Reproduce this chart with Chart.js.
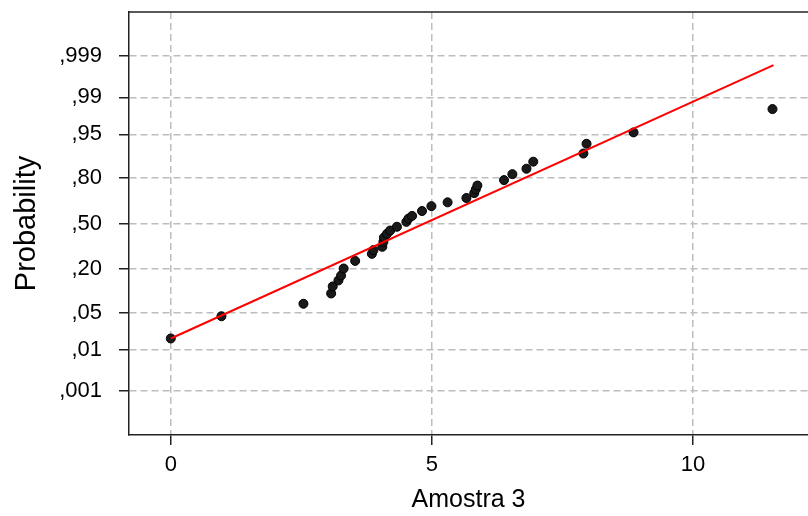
<!DOCTYPE html>
<html>
<head>
<meta charset="utf-8">
<script src="https://cdn.jsdelivr.net/npm/chart.js@4/dist/chart.umd.min.js"></script>
<style>
  html, body { margin: 0; padding: 0; background: #fff; }
</style>
</head>
<body>
<canvas id="chartProb" width="808" height="516"></canvas>
<script>
"use strict";

var amostraX = [0.00, 0.97, 2.54, 3.07, 3.10, 3.21, 3.26, 3.31, 3.53, 3.85,
                3.88, 4.05, 4.07, 4.08, 4.14, 4.20, 4.33, 4.51, 4.55, 4.62,
                4.81, 4.99, 5.30, 5.66, 5.81, 5.84, 5.87, 6.38, 6.54, 6.81,
                6.94, 7.90, 7.96, 8.86, 11.52];
var escoreZ  = [-2.12, -1.71, -1.48, -1.29, -1.16, -1.05, -0.96, -0.83, -0.69, -0.56,
                -0.49, -0.43, -0.34, -0.26, -0.19, -0.13, -0.06, 0.03, 0.09, 0.14,
                0.23, 0.32, 0.39, 0.47, 0.56, 0.63, 0.70, 0.80, 0.91, 1.01,
                1.14, 1.29, 1.47, 1.68, 2.11];

/* reta ajustada (extremos) */
var retaX = [0, 11.54];
var retaZ = [-2.12, 2.92];

/* eixos */
var probTicks  = [0.001, 0.01, 0.05, 0.20, 0.50, 0.80, 0.95, 0.99, 0.999];
var probLabels = [',001', ',01', ',05', ',20', ',50', ',80', ',95', ',99', ',999'];
var xTicks     = [0, 5, 10];

/* quantil normal (aprox. Abramowitz-Stegun 26.2.23) para posicionar os ticks */
function probit(p) {
  if (p === 0.5) return 0;
  var q = p < 0.5 ? p : 1 - p;
  var t = Math.sqrt(-2 * Math.log(q));
  var z = t - (2.515517 + 0.802853 * t + 0.010328 * t * t) /
              (1 + 1.432788 * t + 0.189269 * t * t + 0.001308 * t * t * t);
  return p < 0.5 ? -z : z;
}
var tickZ = probTicks.map(probit);

var pontos = amostraX.map(function (v, i) { return { x: v, y: escoreZ[i] }; });
var reta   = retaX.map(function (v, i) { return { x: v, y: retaZ[i] }; });

var FONTE = "'Liberation Sans', Arial, sans-serif";

var bordaSuperior = {
  id: 'bordaSuperior',
  afterDraw: function (chart) {
    var a = chart.chartArea, ctx = chart.ctx;
    ctx.save();
    ctx.strokeStyle = '#222';
    ctx.lineWidth = 1.5;
    ctx.beginPath();
    ctx.moveTo(a.left, a.top);
    ctx.lineTo(a.right, a.top);
    ctx.stroke();
    ctx.restore();
  }
};

new Chart(document.getElementById('chartProb'), {
  type: 'scatter',
  data: {
    datasets: [
      {
        type: 'line',
        data: reta,
        borderColor: '#ff0000',
        borderWidth: 2,
        pointRadius: 0,
        fill: false,
        tension: 0
      },
      {
        data: pontos,
        backgroundColor: '#1a1a1a',
        borderColor: '#000',
        borderWidth: 1,
        pointRadius: 4.5,
        pointStyle: 'circle'
      }
    ]
  },
  plugins: [bordaSuperior],
  options: {
    responsive: false,
    animation: false,
    layout: { autoPadding: false, padding: { top: 12, left: 0, right: 0, bottom: 0 } },
    plugins: {
      legend: { display: false },
      tooltip: { enabled: false }
    },
    scales: {
      x: {
        type: 'linear',
        min: -0.8,
        max: 12.2,
        afterBuildTicks: function (scale) {
          scale.ticks = xTicks.map(function (v) { return { value: v }; });
        },
        afterFit: function (scale) {
          scale.height = 81;
          scale.paddingLeft = 0;
          scale.paddingRight = 0;
        },
        grid: {
          color: '#bdbdbd',
          lineWidth: 1.5,
          tickLength: 10,
          tickColor: '#222',
          tickWidth: 1.5,
          tickBorderDash: []
        },
        border: { color: '#222', width: 1.5, dash: [7, 4] },
        ticks: {
          color: '#000',
          padding: 7,
          font: { family: FONTE, size: 22 },
          callback: function (v) { return String(v); }
        },
        title: {
          display: true,
          text: 'Amostra 3',
          color: '#000',
          font: { family: FONTE, size: 25 },
          padding: { top: 0, bottom: 1 }
        }
      },
      y: {
        type: 'linear',
        min: -3.9,
        max: 3.9,
        afterBuildTicks: function (scale) {
          scale.ticks = tickZ.map(function (v) { return { value: v }; });
        },
        afterFit: function (scale) {
          scale.width = 129;
          scale.paddingTop = 0;
          scale.paddingBottom = 0;
        },
        grid: {
          color: '#bdbdbd',
          lineWidth: 1.5,
          tickLength: 10,
          tickColor: '#222',
          tickWidth: 1.5,
          tickBorderDash: []
        },
        border: { color: '#222', width: 1.5, dash: [7, 4] },
        ticks: {
          color: '#000',
          padding: 17,
          font: { family: FONTE, size: 22 },
          callback: function (v, i) { return probLabels[i]; }
        },
        title: {
          display: true,
          text: 'Probability',
          color: '#000',
          font: { family: FONTE, size: 29 },
          padding: { top: 10, bottom: 0 }
        }
      }
    }
  }
});
</script>
</body>
</html>
